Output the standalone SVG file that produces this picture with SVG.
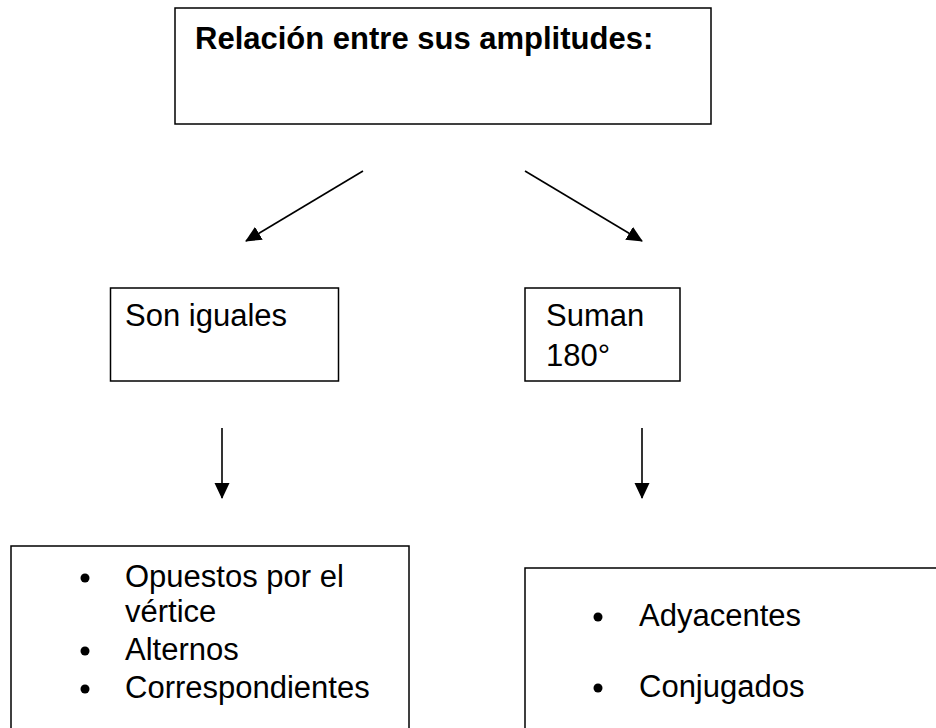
<svg xmlns="http://www.w3.org/2000/svg" width="936" height="728" viewBox="0 0 936 728">
  <style>
    .box { fill: #ffffff; stroke: #000000; stroke-width: 1.5; }
    .t { font-family: "Liberation Sans", Arial, sans-serif; font-size: 31px; fill: #000000; }
    .b { font-weight: bold; }
    .conn { stroke: #000000; stroke-width: 1.6; fill: none; marker-end: url(#arrow); }
  </style>
  <defs>
    <marker id="arrow" markerUnits="userSpaceOnUse" viewBox="0 0 16 16" markerWidth="16" markerHeight="16" refX="15" refY="8" orient="auto">
      <path d="M0,0.5 L16,8 L0,15.5 Z" fill="#000000"/>
    </marker>
  </defs>
  <rect width="936" height="728" fill="#ffffff"/>

  <g id="top">
    <rect class="box" x="175" y="8" width="536" height="116"/>
    <text class="t b" x="195" y="49">Relación entre sus amplitudes:</text>
  </g>

  <g id="son-iguales">
    <rect class="box" x="110.5" y="288" width="228" height="93"/>
    <text class="t" x="125" y="326">Son iguales</text>
  </g>

  <g id="suman">
    <rect class="box" x="525" y="288" width="155" height="93"/>
    <text class="t" x="546" y="326">Suman</text>
    <text class="t" x="546" y="366">180°</text>
  </g>

  <g id="iguales-list">
    <rect class="box" x="11" y="546" width="398" height="190"/>
    <circle cx="85" cy="578" r="4.5"/>
    <text class="t" x="125" y="587">Opuestos por el</text>
    <text class="t" x="125" y="622">vértice</text>
    <circle cx="85" cy="651" r="4.5"/>
    <text class="t" x="125" y="660">Alternos</text>
    <circle cx="85" cy="689" r="4.5"/>
    <text class="t" x="125" y="698">Correspondientes</text>
  </g>

  <g id="suman-list">
    <rect class="box" x="525" y="568" width="420" height="170"/>
    <circle cx="598" cy="617" r="4.5"/>
    <text class="t" x="639" y="626">Adyacentes</text>
    <circle cx="598" cy="688" r="4.5"/>
    <text class="t" x="639" y="697">Conjugados</text>
  </g>

  <g id="connectors">
    <line class="conn" x1="363" y1="171" x2="246" y2="241"/>
    <line class="conn" x1="525" y1="171" x2="642" y2="241"/>
    <line class="conn" x1="222" y1="428" x2="222" y2="498"/>
    <line class="conn" x1="642" y1="428" x2="642" y2="498"/>
  </g>
</svg>
